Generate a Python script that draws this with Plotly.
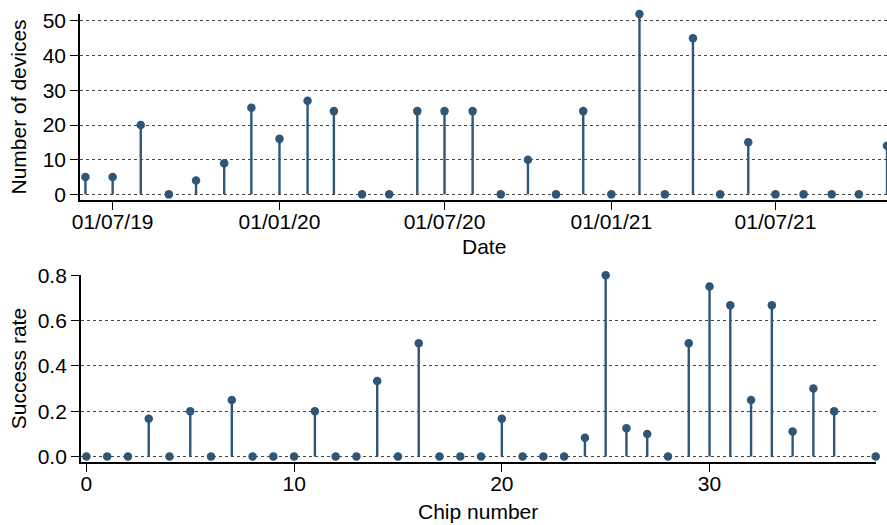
import plotly.graph_objects as go

# Top chart data: monthly device counts
dates = ["2019-06-01", "2019-07-01", "2019-08-01", "2019-09-01", "2019-10-01", "2019-11-01",
         "2019-12-01", "2020-01-01", "2020-02-01", "2020-03-01", "2020-04-01", "2020-05-01",
         "2020-06-01", "2020-07-01", "2020-08-01", "2020-09-01", "2020-10-01", "2020-11-01",
         "2020-12-01", "2021-01-01", "2021-02-01", "2021-03-01", "2021-04-01", "2021-05-01",
         "2021-06-01", "2021-07-01", "2021-08-01", "2021-09-01", "2021-10-01", "2021-11-01"]
devices = [5, 5, 20, 0, 4, 9, 25, 16, 27, 24, 0, 0, 24, 24, 24, 0, 10, 0,
           24, 0, 52, 0, 45, 0, 15, 0, 0, 0, 0, 14]

# Bottom chart data: success rate per chip
chips = list(range(0, 37)) + [38]
success = [0, 0, 0, 0.167, 0, 0.2, 0, 0.25, 0, 0, 0,
           0.2, 0, 0, 0.333, 0, 0.5, 0, 0, 0, 0.167,
           0, 0, 0, 0.083, 0.8, 0.125, 0.1, 0, 0.5, 0.75,
           0.667, 0.25, 0.667, 0.111, 0.3, 0.2, 0]

COLOR = "#2f5577"
FONT = "Liberation Sans, Arial, Helvetica, sans-serif"
FS = 21

fig = go.Figure()

fig.add_trace(go.Scatter(
    x=dates, y=devices, mode="markers",
    marker=dict(color=COLOR, size=8.5),
    error_y=dict(type="data", symmetric=False, array=[0] * len(devices),
                 arrayminus=devices, color=COLOR, thickness=2.4, width=0),
    cliponaxis=False, xaxis="x", yaxis="y", showlegend=False))

fig.add_trace(go.Scatter(
    x=chips, y=success, mode="markers",
    marker=dict(color=COLOR, size=8.5),
    error_y=dict(type="data", symmetric=False, array=[0] * len(success),
                 arrayminus=success, color=COLOR, thickness=2.4, width=0),
    cliponaxis=False, xaxis="x2", yaxis="y2", showlegend=False))

axis_common = dict(showline=True, linecolor="#000", linewidth=1.5, ticks="outside",
                   ticklen=8, tickwidth=1.3, tickcolor="#000", zeroline=False,
                   tickfont=dict(size=FS, color="#000"), title_font=dict(size=FS, color="#000"))

fig.update_layout(
    width=887, height=525,
    margin=dict(l=80, r=0, t=14, b=63),
    paper_bgcolor="white", plot_bgcolor="white",
    font=dict(family=FONT, size=FS, color="#000"),
    xaxis=dict(domain=[0, 1], anchor="y", type="date", range=["2019-05-26", "2021-11-01"],
               tick0="2019-07-01", dtick="M6", tickformat="%d/%m/%y", showgrid=False,
               ticklabelstandoff=-6, **axis_common),
    yaxis=dict(domain=[0.585, 1], anchor="x", range=[-1.6, 52], tickvals=[0, 10, 20, 30, 40, 50],
               showgrid=True, gridcolor="#444", griddash="dot", gridwidth=1,
               title=dict(text="Number of devices", standoff=10), **axis_common),
    xaxis2=dict(domain=[0.001, 0.986], anchor="y2", range=[-0.27, 38],
                tickvals=[0, 10, 20, 30], showgrid=False,
                ticklabelstandoff=-6, **axis_common),
    yaxis2=dict(domain=[0, 0.417], anchor="x2", range=[-0.024, 0.8],
                tickvals=[0, 0.2, 0.4, 0.6, 0.8], tickformat=".1f",
                showgrid=True, gridcolor="#444", griddash="dot", gridwidth=1,
                title=dict(text="Success rate", standoff=5), **axis_common),
    annotations=[
        dict(text="Date", xref="x domain", x=0.5, yref="paper", y=0.482,
             xanchor="center", yanchor="middle", showarrow=False,
             font=dict(size=FS, color="#000")),
        dict(text="Chip number", xref="x2 domain", x=0.5, yref="paper", y=-0.11,
             xanchor="center", yanchor="middle", showarrow=False,
             font=dict(size=FS, color="#000")),
    ],
)

fig.write_html("out.html")
